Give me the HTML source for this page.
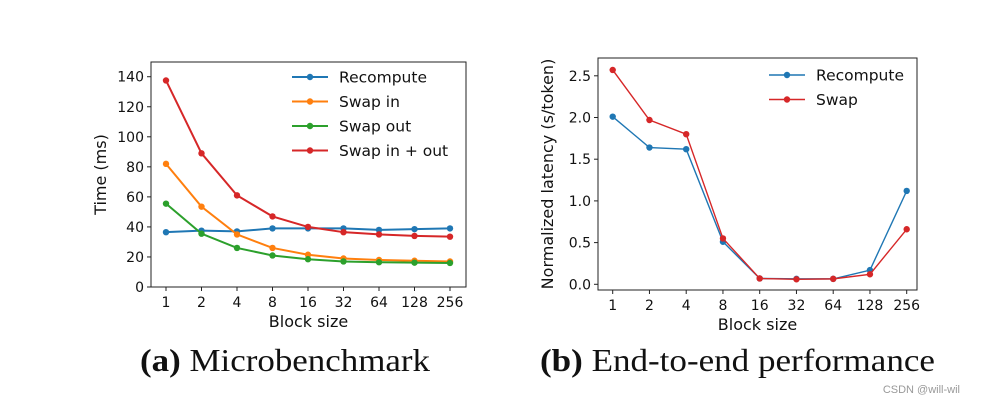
<!DOCTYPE html>
<html><head><meta charset="utf-8"><style>
body{margin:0;background:#fff;}
svg{display:block;font-family:"DejaVu Sans","Liberation Sans",sans-serif;}
</style></head><body>
<svg id="s" width="982" height="406" viewBox="0 0 982 406">
<text x="140" y="371" textLength="290" lengthAdjust="spacingAndGlyphs" font-family="Liberation Serif,serif" font-size="32" fill="#111"><tspan font-weight="bold">(a)</tspan> Microbenchmark</text>
<text x="540" y="371" textLength="395" lengthAdjust="spacingAndGlyphs" font-family="Liberation Serif,serif" font-size="32" fill="#111"><tspan font-weight="bold">(b)</tspan> End-to-end performance</text>
<text x="960" y="393" text-anchor="end" font-family="Liberation Sans,sans-serif" font-size="11" fill="#999">CSDN @will-wil</text>
</svg>
<script>
const cats=['1','2','4','8','16','32','64','128','256'];
const aRecompute=[36.5,37.5,37,39,39,39,38,38.5,39];
const aSwapIn=[82,53.5,35,26,21.5,19,18,17.5,17];
const aSwapOut=[55.5,35.5,26,21,18.5,17,16.5,16.2,16];
const aSwapInOut=[137.5,89,61,47,40,36.5,35,34,33.5];
const aTicks=[0,20,40,60,80,100,120,140];
const bRecompute=[2.01,1.64,1.62,0.51,0.07,0.065,0.065,0.17,1.12];
const bSwap=[2.57,1.97,1.80,0.55,0.07,0.06,0.065,0.12,0.66];
const bTicks=[0,0.5,1.0,1.5,2.0,2.5];
const NS='http://www.w3.org/2000/svg';
const svg=document.getElementById('s');
function mk(tag,attrs,parent){const e=document.createElementNS(NS,tag);for(const k in attrs)e.setAttribute(k,attrs[k]);(parent||svg).appendChild(e);return e;}
function chart(o){
  const g=mk('g',{});
  
  
  const xf=i=>o.x0+i*o.dx;
  const yf=v=>o.y0-(v)*o.ky;
  const fr=mk('rect',{x:o.L,y:o.T,width:o.R-o.L,height:o.B-o.T,fill:'none',stroke:'#222','stroke-width':1},g);
  
  
  o.ticks.forEach(t=>{
    const y=yf(t);
    mk('line',{x1:o.L-4,x2:o.L,y1:y,y2:y,stroke:'#222'},g);
    const tx=mk('text',{x:o.L-7,y:y+5,'text-anchor':'end','font-size':14,fill:'#111'},g);
    tx.textContent=o.fmt(t);
    
    
  });
  cats.forEach((c,i)=>{
    const x=xf(i);
    mk('line',{x1:x,x2:x,y1:o.B,y2:o.B+4,stroke:'#222'},g);
    const tx=mk('text',{x:x,y:o.B+20,'text-anchor':'middle','font-size':14,fill:'#111'},g);
    tx.textContent=c;
    
    
  });
  const xl=mk('text',{x:(o.L+o.R)/2,y:o.B+40,'text-anchor':'middle','font-size':16,fill:'#111'},g);
  xl.textContent='Block size';
  
  
  const yl=mk('text',{x:0,y:0,'text-anchor':'middle','font-size':16,fill:'#111',transform:`translate(${o.ylx},${(o.T+o.B)/2}) rotate(-90)`},g);
  yl.textContent=o.ylabel;
  
  
  o.series.forEach((s,k)=>{
    const pts=s.v.map((v,i)=>xf(i)+','+yf(v)).join(' ');
    const pl=mk('polyline',{points:pts,fill:'none',stroke:s.c,'stroke-width':o.lw},g);
    
    
    s.v.forEach((v,i)=>{
      const c=mk('circle',{cx:xf(i),cy:yf(v),r:3.2,fill:s.c},g);
      
      
    });
    const ly=o.legY+k*o.legDy;
    const le=mk('g',{},g);
    
    
    mk('line',{x1:o.legX,x2:o.legX+36,y1:ly,y2:ly,stroke:s.c,'stroke-width':o.lw},le);
    mk('circle',{cx:o.legX+18,cy:ly,r:3.2,fill:s.c},le);
    const t=mk('text',{x:o.legX+47,y:ly+5.5,'font-size':15.5,fill:'#111'},le);
    t.textContent=s.label;
  });
}
chart({name:'chart-microbenchmark',L:151,R:466,T:62,B:287,x0:166,dx:35.5,y0:287,ky:1.502,
  ticks:aTicks,fmt:t=>String(t),ylabel:'Time (ms)',ylx:106,lw:2,legX:292,legY:77,legDy:24.5,
  series:[{id:'recompute',label:'Recompute',c:'#1f77b4',v:aRecompute},
          {id:'swap-in',label:'Swap in',c:'#ff7f0e',v:aSwapIn},
          {id:'swap-out',label:'Swap out',c:'#2ca02c',v:aSwapOut},
          {id:'swap-in-out',label:'Swap in + out',c:'#d62728',v:aSwapInOut}]});
chart({name:'chart-end-to-end',L:598,R:917,T:58,B:290,x0:612.7,dx:36.75,y0:284.3,ky:83.4,
  ticks:bTicks,fmt:t=>t.toFixed(1),ylabel:'Normalized latency (s/token)',ylx:553,lw:1.4,legX:769,legY:75,legDy:24.5,
  series:[{id:'recompute',label:'Recompute',c:'#1f77b4',v:bRecompute},
          {id:'swap',label:'Swap',c:'#d62728',v:bSwap}]});
</script>
</body></html>
